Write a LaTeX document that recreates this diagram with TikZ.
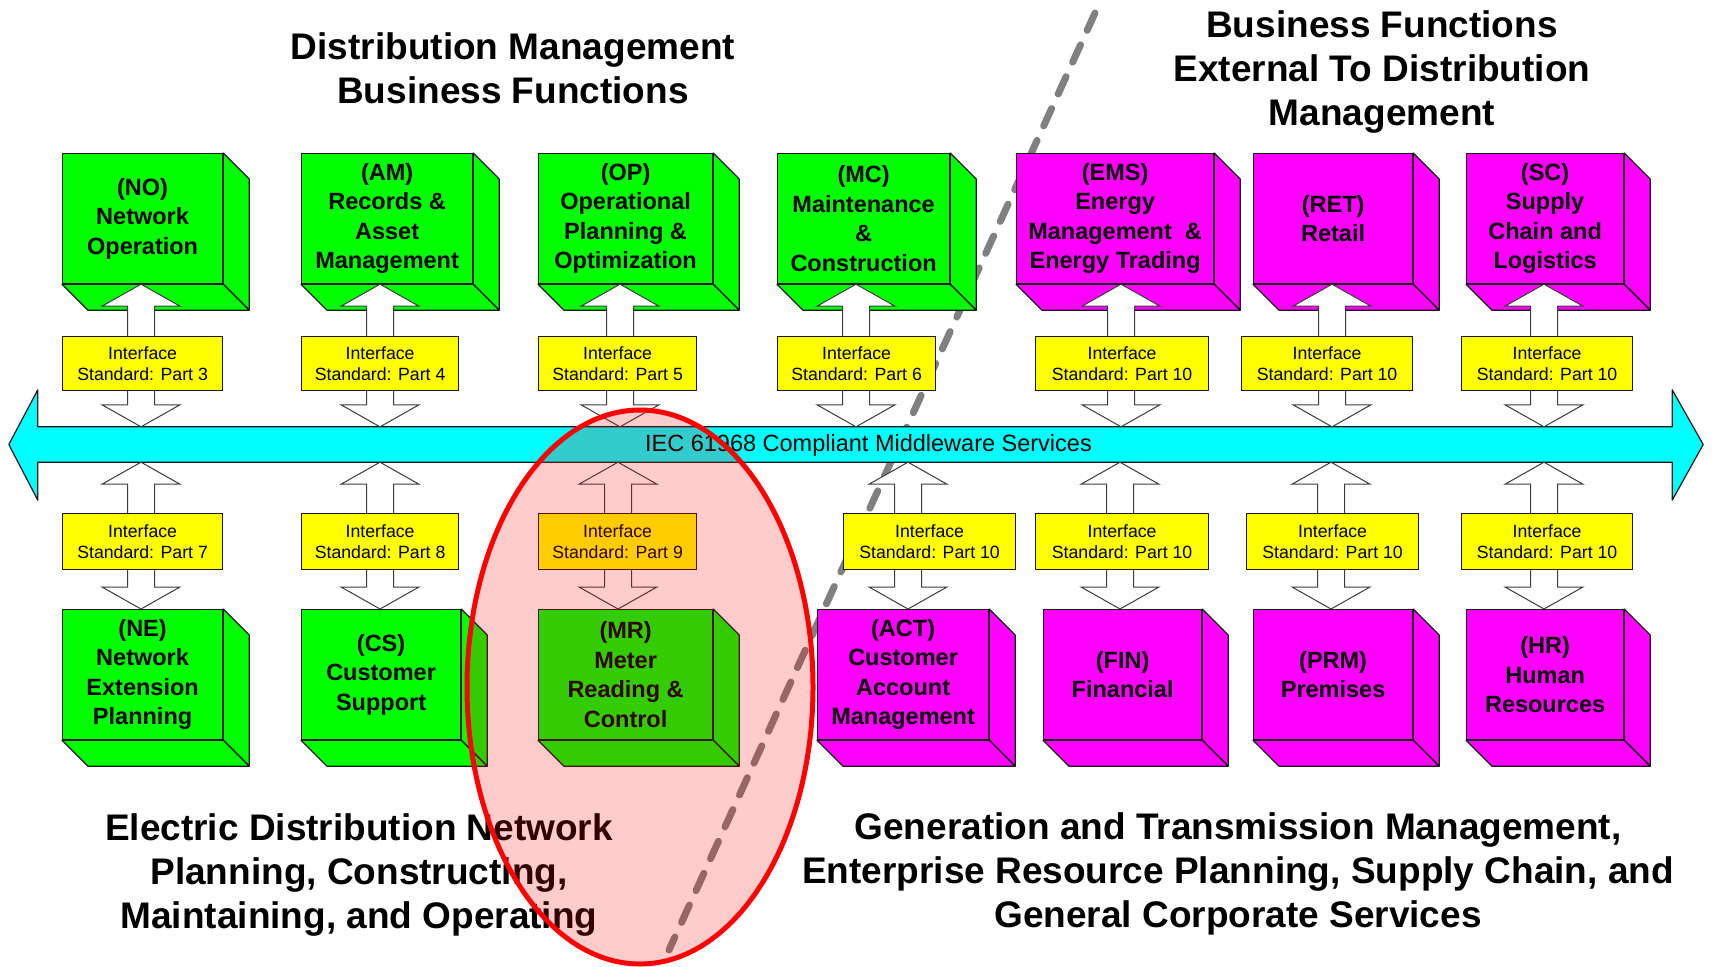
\documentclass[tikz,border=0pt]{standalone}
\usepackage{fontspec}
\setmainfont{Liberation Sans}
\usetikzlibrary{calc}
\definecolor{gbox}{RGB}{0,255,0}
\definecolor{mbox}{RGB}{255,0,255}
\definecolor{ybox}{RGB}{255,255,0}
\definecolor{cbar}{RGB}{0,255,255}
\definecolor{dashgray}{RGB}{128,128,128}
\definecolor{edge}{RGB}{25,25,25}
\tikzset{
  facebox/.style={draw=edge, line width=1.2pt, inner sep=0pt, anchor=north west,
    minimum height=130pt, align=center, font=\fontsize{23.5}{29.5}\selectfont\bfseries},
  side/.style={draw=edge, line width=1.2pt, line join=round},
  stdbox/.style={draw=edge, line width=1.2pt, fill=ybox, inner sep=0pt, anchor=north west,
    minimum height=54pt, align=center, font=\fontsize{17.7}{21.5}\selectfont},
  blockarrow/.style={draw=edge!85, line width=1pt, fill=white, line join=miter},
  title/.style={align=center, inner sep=0pt, anchor=north, font=\fontsize{37}{44}\selectfont\bfseries},
}
\newcommand\cubebox[5]{%
  \node[facebox, fill=#5, minimum width=#4pt] (#1) at (#2,#3) {\csname lbl#1\endcsname};
  \draw[side, fill=#5] (#1.north east) -- ++(26,26) -- ($(#1.south east)+(26,26)$) -- (#1.south east) -- cycle;
  \draw[side, fill=#5] (#1.south west) -- (#1.south east) -- ++(26,26) -- ($(#1.south west)+(26,26)$) -- cycle;
}
\newcommand\blockarr[3]{%
  \draw[blockarrow] let \p1=(#2), \p2=(#3) in
    (#1pt,\y1) -- (#1pt+39pt,\y1-22pt) -- (#1pt+13.5pt,\y1-22pt) -- (#1pt+13.5pt,\y2+22pt)
    -- (#1pt+39pt,\y2+22pt) -- (#1pt,\y2) -- (#1pt-39pt,\y2+22pt) -- (#1pt-13.5pt,\y2+22pt)
    -- (#1pt-13.5pt,\y1-22pt) -- (#1pt-39pt,\y1-22pt) -- cycle;
}
\newcommand\stdlabel[1]{Interface\\Standard: Part #1}
\def\lblNO{(NO)\\Network\\Operation}
\def\lblAM{(AM)\\Records \&\\Asset\\Management}
\def\lblOP{(OP)\\Operational\\Planning \&\\Optimization}
\def\lblMC{(MC)\\Maintenance\\\&\\Construction}
\def\lblEMS{(EMS)\\Energy\\Management\ \ \&\\Energy Trading}
\def\lblRET{(RET)\\Retail}
\def\lblSC{(SC)\\Supply\\Chain and\\Logistics}
\def\lblNE{(NE)\\Network\\Extension\\Planning}
\def\lblCS{(CS)\\Customer\\Support}
\def\lblMR{(MR)\\Meter\\Reading \&\\Control}
\def\lblACT{(ACT)\\Customer\\Account\\Management}
\def\lblFIN{(FIN)\\Financial}
\def\lblPRM{(PRM)\\Premises}
\def\lblHR{(HR)\\Human\\Resources}
\begin{document}
\begin{tikzpicture}[x=1pt,y=-1pt]
\useasboundingbox (0,0) rectangle (1712,966);
\fill[white] (0,0) rectangle (1712,966);

% dashed separator
\coordinate (dA) at (1095,13);
\coordinate (dB) at (669,950);
\draw[dashgray, line width=7pt, line cap=round, dash pattern=on 19pt off 16pt] (dA) -- (dB);

% middleware bar
\node[minimum width=1634pt, minimum height=35pt, inner sep=0pt] (bar) at (855,444.5) {};
\draw[side, fill=cbar] (bar.north west) -- (bar.north east) -- ++(0,-37)
  -- ($(bar.east)+(31,0)$) -- ($(bar.south east)+(0,38)$) -- (bar.south east)
  -- (bar.south west) -- ++(0,38) -- ($(bar.west)+(-29,0)$) -- ($(bar.north west)+(0,-37)$) -- cycle;
\node[font=\fontsize{23.5}{28}\selectfont] (bartext) at (868.5,445) {IEC 61968 Compliant Middleware Services};

% upper boxes
\cubebox{NO}{62}{153}{160}{gbox}
\cubebox{AM}{301}{153}{171}{gbox}
\cubebox{OP}{538}{153}{174}{gbox}
\cubebox{MC}{777}{153}{172}{gbox}
\cubebox{EMS}{1016}{153}{197}{mbox}
\cubebox{RET}{1253}{153}{159}{mbox}
\cubebox{SC}{1466}{153}{157}{mbox}
% lower boxes
\cubebox{NE}{62}{609}{160}{gbox}
\cubebox{CS}{301}{609}{159}{gbox}
\cubebox{MR}{538}{609}{174}{gbox}
\cubebox{ACT}{817}{609}{171}{mbox}
\cubebox{FIN}{1043}{609}{158}{mbox}
\cubebox{PRM}{1253}{609}{159}{mbox}
\cubebox{HR}{1466}{609}{157}{mbox}

% block arrows
\blockarr{141}{NO.south}{bar.north}
\blockarr{380}{AM.south}{bar.north}
\blockarr{620}{OP.south}{bar.north}
\blockarr{856}{MC.south}{bar.north}
\blockarr{1121}{EMS.south}{bar.north}
\blockarr{1332}{RET.south}{bar.north}
\blockarr{1544}{SC.south}{bar.north}
\blockarr{141}{bar.south}{NE.north}
\blockarr{380}{bar.south}{CS.north}
\blockarr{618}{bar.south}{MR.north}
\blockarr{908}{bar.south}{ACT.north}
\blockarr{1120}{bar.south}{FIN.north}
\blockarr{1331}{bar.south}{PRM.north}
\blockarr{1544}{bar.south}{HR.north}

% interface standard boxes
\node[stdbox, minimum width=160pt] (s3) at (62,336) {\stdlabel{3}};
\node[stdbox, minimum width=157pt] (s4) at (301,336) {\stdlabel{4}};
\node[stdbox, minimum width=158pt] (s5) at (538,336) {\stdlabel{5}};
\node[stdbox, minimum width=158pt] (s6) at (777,336) {\stdlabel{6}};
\node[stdbox, minimum width=173pt] (s10a) at (1035,336) {\stdlabel{10}};
\node[stdbox, minimum width=171pt] (s10b) at (1241,336) {\stdlabel{10}};
\node[stdbox, minimum width=171pt] (s10c) at (1461,336) {\stdlabel{10}};
\node[stdbox, minimum width=160pt, minimum height=56pt] (s7) at (62,513) {\stdlabel{7}};
\node[stdbox, minimum width=157pt, minimum height=56pt] (s8) at (301,513) {\stdlabel{8}};
\node[stdbox, minimum width=158pt, minimum height=56pt] (s9) at (538,513) {\stdlabel{9}};
\node[stdbox, minimum width=172pt, minimum height=56pt] (s10d) at (843,513) {\stdlabel{10}};
\node[stdbox, minimum width=173pt, minimum height=56pt] (s10e) at (1035,513) {\stdlabel{10}};
\node[stdbox, minimum width=172pt, minimum height=56pt] (s10f) at (1246,513) {\stdlabel{10}};
\node[stdbox, minimum width=171pt, minimum height=56pt] (s10g) at (1461,513) {\stdlabel{10}};

% titles
\node[title] (t1) at (513,32) {Distribution Management\\Business Functions};
\node[title] (t2) at (1382,10) {Business Functions\\External To Distribution\\Management};
\node[title] (t3) at (359,813) {Electric Distribution Network\\Planning, Constructing,\\Maintaining, and Operating};
\node[title] (t4) at (1238,812) {Generation and Transmission Management,\\Enterprise Resource Planning, Supply Chain, and\\General Corporate Services};

% highlight ellipse
\coordinate (ec) at (640,687);
\fill[red, fill opacity=0.2] (ec) ellipse [x radius=173, y radius=277];
\draw[red, line width=5pt] (ec) ellipse [x radius=173, y radius=277];
\end{tikzpicture}
\end{document}
